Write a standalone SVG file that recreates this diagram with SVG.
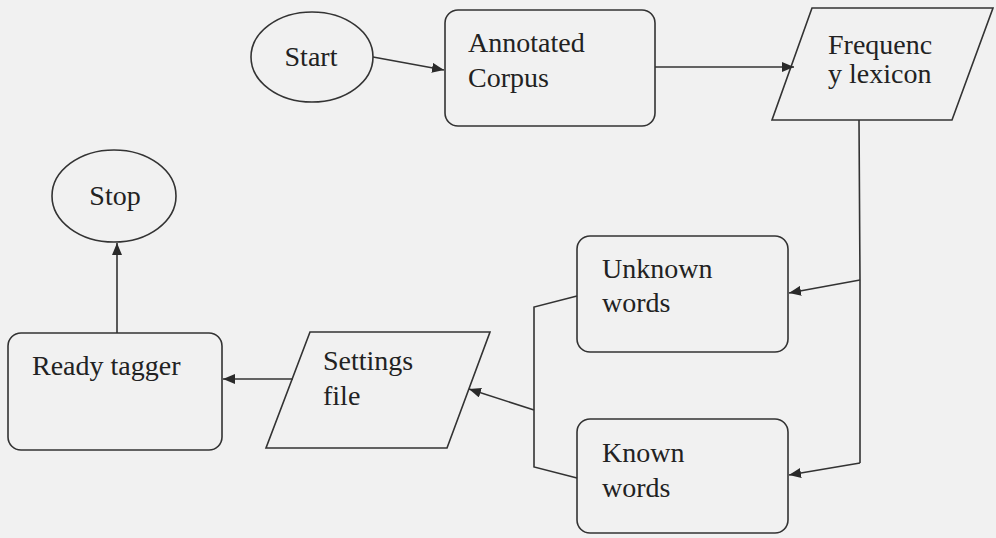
<svg xmlns="http://www.w3.org/2000/svg" width="996" height="538" viewBox="0 0 996 538">
<defs>
<marker id="ah" viewBox="0 0 12 10" refX="12" refY="5" markerWidth="12" markerHeight="10" markerUnits="userSpaceOnUse" orient="auto">
<path d="M0,0 L12,5 L0,10 Z" fill="#2a2a2a"/>
</marker>
</defs>
<style>
.s{fill:none;stroke:#333;stroke-width:1.6}
.n{fill:#f1f1f1;stroke:#333;stroke-width:1.6}
.c{fill:none;stroke:#333;stroke-width:1.6}
.t{font-family:"Liberation Serif","Times New Roman",serif;font-size:28px;fill:#222}
</style>
<rect width="996" height="538" fill="#f1f1f1"/>
<g id="start"><ellipse class="n" cx="312" cy="57" rx="61" ry="45"/><text class="t" x="311" y="66" text-anchor="middle">Start</text></g>
<g id="corpus"><rect class="n" x="445" y="10" width="210" height="116" rx="13"/><text class="t" x="468" y="52">Annotated</text><text class="t" x="468" y="87">Corpus</text></g>
<g id="lexicon"><polygon class="n" points="812,8 993,8 952,120 772,120"/><text class="t" x="828" y="54">Frequenc</text><text class="t" x="828" y="83">y lexicon</text></g>
<g id="unknown"><rect class="n" x="577" y="236" width="211" height="116" rx="13"/><text class="t" x="602" y="278">Unknown</text><text class="t" x="602" y="312">words</text></g>
<g id="known"><rect class="n" x="577" y="419" width="211" height="114" rx="13"/><text class="t" x="602" y="462">Known</text><text class="t" x="602" y="497">words</text></g>
<g id="settings"><polygon class="n" points="310,332 490,332 447,448 266,448"/><text class="t" x="323" y="370">Settings</text><text class="t" x="323" y="405">file</text></g>
<g id="ready"><rect class="n" x="8" y="333" width="214" height="117" rx="13"/><text class="t" x="32" y="375">Ready tagger</text></g>
<g id="stop"><ellipse class="n" cx="114" cy="196" rx="62" ry="46"/><text class="t" x="115" y="205" text-anchor="middle">Stop</text></g>
<g id="connectors">
<line class="c" x1="373" y1="57" x2="444" y2="70" marker-end="url(#ah)"/>
<line class="c" x1="655" y1="67" x2="794" y2="67" marker-end="url(#ah)"/>
<polyline class="c" points="859,120 860,280 860,463"/>
<line class="c" x1="860" y1="280" x2="789" y2="293" marker-end="url(#ah)"/>
<line class="c" x1="860" y1="463" x2="789" y2="475" marker-end="url(#ah)"/>
<polyline class="c" points="577,296 534,307 534,467 577,478"/>
<line class="c" x1="534" y1="410" x2="469" y2="389" marker-end="url(#ah)"/>
<line class="c" x1="293" y1="379" x2="223" y2="379" marker-end="url(#ah)"/>
<line class="c" x1="117" y1="333" x2="117" y2="243" marker-end="url(#ah)"/>
</g>
</svg>
